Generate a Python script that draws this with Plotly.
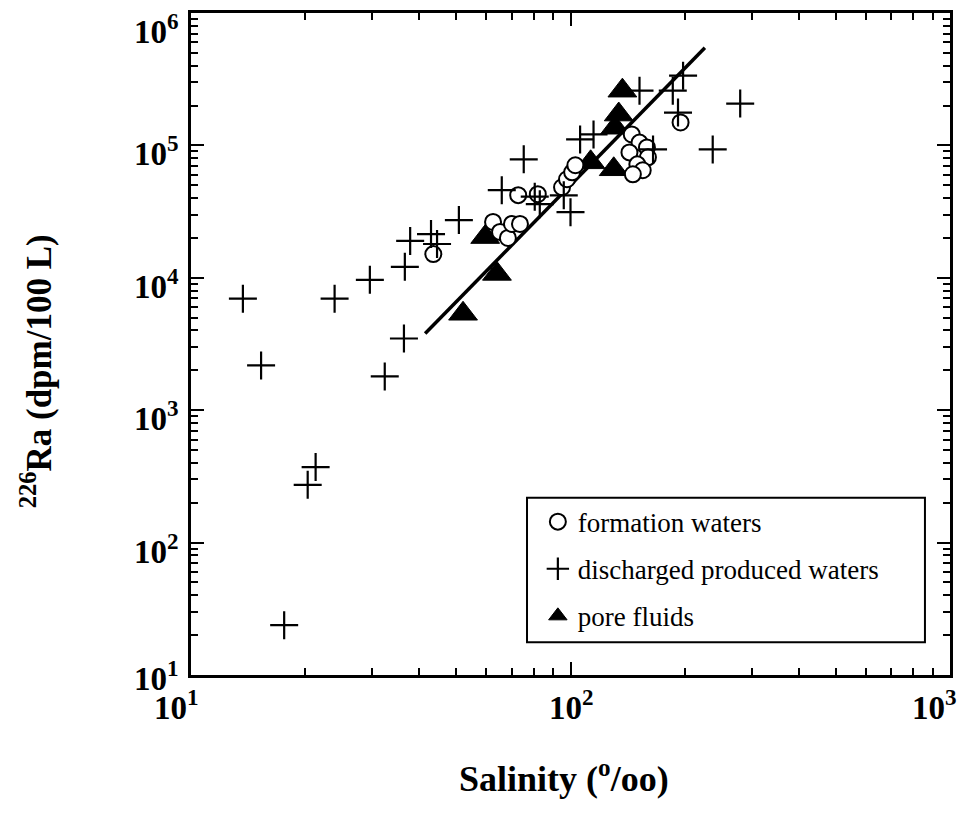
import math
import plotly.graph_objects as go

# ---- data ----
formation_salinity = [43.5, 72.8, 82.0, 62.5, 65.2, 68.4, 70.1, 73.6, 95.0, 97.9, 101, 103,
                      145, 152, 159, 143, 160, 150, 155, 146, 195]
formation_ra = [15100, 42100, 42800, 26400, 22200, 20000, 25500, 25500, 48300, 55500, 62600, 70800,
                121000, 105000, 96600, 88500, 81300, 71900, 64900, 60500, 149000]

produced_salinity = [13.7, 15.3, 23.9, 29.6, 36.6, 36.4, 32.4, 20.3, 21.3, 17.6, 37.8, 42.9, 44.5,
                     50.8, 75.3, 65.9, 80.5, 83.0, 96.0, 100, 106, 115, 152, 186, 198, 165, 192, 280, 237]
produced_ra = [6950, 2180, 6950, 9660, 12100, 3480, 1800, 273, 372, 23.8, 19000, 21400, 18000,
               27300, 78500, 45900, 41000, 36000, 42000, 31300, 111000, 121000, 259000, 259000, 336000,
               93300, 177000, 207000, 93300]

pore_salinity = [52.1, 64.0, 59.6, 113, 130, 131, 134, 137]
pore_ra = [5350, 10700, 20300, 74500, 66000, 136000, 171000, 259000]

fit_salinity = [41.4, 226]
fit_ra = [3790, 546000]

x_major = [10, 100, 1000]
x_major_text = ["10<sup>1</sup>", "10<sup>2</sup>", "10<sup>3</sup>"]
x_label_shift = [-15, 1, -16]
y_major = [10, 100, 1000, 10000, 100000, 1000000]
y_major_text = ["10<sup>1</sup>", "10<sup>2</sup>", "10<sup>3</sup>",
                "10<sup>4</sup>", "10<sup>5</sup>", "10<sup>6</sup>"]
y_label_shift = [-1, -6, -6, -6, -6, -16]

FONT = "Liberation Serif"
TICKFONT = dict(family=FONT, size=33, color="black", weight="bold")

def minor_vals(lo_exp, hi_exp):
    vals = []
    for e in range(lo_exp, hi_exp):
        for m in range(2, 10):
            vals.append(m * 10 ** e)
    return vals

fig = go.Figure()

fig.add_trace(go.Scatter(x=fit_salinity, y=fit_ra, mode="lines",
                         line=dict(color="black", width=3.5), showlegend=False, hoverinfo="skip"))

fig.add_trace(go.Scatter(x=pore_salinity, y=pore_ra, mode="markers", name="pore fluids",
                         legendgroup="c", legendrank=3,
                         marker=dict(symbol="triangle-up", size=25, color="black",
                                     line=dict(color="black", width=1))))

fig.add_trace(go.Scatter(x=formation_salinity, y=formation_ra, mode="markers", name="formation waters",
                         legendgroup="a", legendrank=1,
                         marker=dict(symbol="circle", size=16, color="white",
                                     line=dict(color="black", width=2))))

fig.add_trace(go.Scatter(x=produced_salinity, y=produced_ra, mode="markers",
                         name="discharged produced waters", legendgroup="b", legendrank=2,
                         marker=dict(symbol="cross-thin", size=20, color="black",
                                     line=dict(color="black", width=2.2))))

axis_common = dict(
    type="log", showgrid=False, zeroline=False,
    showline=True, linecolor="black", linewidth=3, mirror="allticks",
    ticks="inside", ticklen=13, tickwidth=2, tickcolor="black",
    showticklabels=False,
)

fig.update_xaxes(**axis_common, range=[1, 3], tickmode="array", tickvals=x_major,
                 minor=dict(tickmode="array", tickvals=minor_vals(1, 3), ticks="inside",
                            ticklen=7, tickwidth=2, tickcolor="black"))
fig.update_yaxes(**axis_common, range=[1, 6], tickmode="array", tickvals=y_major,
                 minor=dict(tickmode="array", tickvals=minor_vals(1, 6), ticks="inside",
                            ticklen=7, tickwidth=2, tickcolor="black"))

# tick labels as annotations (so edge labels are not dropped)
for v, t, s in zip(x_major, x_major_text, x_label_shift):
    fig.add_annotation(text=t, xref="x", yref="paper", x=math.log10(v), y=0,
                       xanchor="center", yanchor="top", yshift=-7, xshift=s,
                       showarrow=False, font=TICKFONT)
for v, t, s in zip(y_major, y_major_text, y_label_shift):
    fig.add_annotation(text=t, xref="paper", yref="y", x=0, y=math.log10(v),
                       xanchor="right", yanchor="middle", xshift=-10, yshift=s,
                       showarrow=False, font=TICKFONT)

fig.add_annotation(text="Salinity (<sup>o</sup>/oo)", xref="paper", yref="paper",
                   x=0.491, y=-0.153, xanchor="center", yanchor="middle", showarrow=False,
                   font=dict(family=FONT, size=36, color="black", weight="bold"))
fig.add_annotation(text="<sup>226</sup>Ra (dpm/100 L)", xref="paper", yref="paper",
                   x=-0.204, y=0.459, xanchor="center", yanchor="middle",
                   showarrow=False, textangle=-90,
                   font=dict(family=FONT, size=35, color="black", weight="bold"))

# legend frame
fig.add_shape(type="rect", xref="paper", yref="paper", x0=0.4427, x1=0.967, y0=0.0496, y1=0.2677,
              line=dict(color="black", width=2), fillcolor="white", layer="below")

# page body has an 8px margin, so the figure is drawn 8px smaller and shifted
fig.update_layout(
    width=969, height=812,
    margin=dict(l=183, r=27, t=2, b=145),
    paper_bgcolor="white", plot_bgcolor="white",
    legend=dict(x=0.457, y=0.268, xanchor="left", yanchor="top",
                bgcolor="rgba(0,0,0,0)", borderwidth=0,
                font=dict(family=FONT, size=27, color="black"),
                tracegroupgap=9, itemsizing="trace"),
    showlegend=True,
)

fig.write_html("out.html")
